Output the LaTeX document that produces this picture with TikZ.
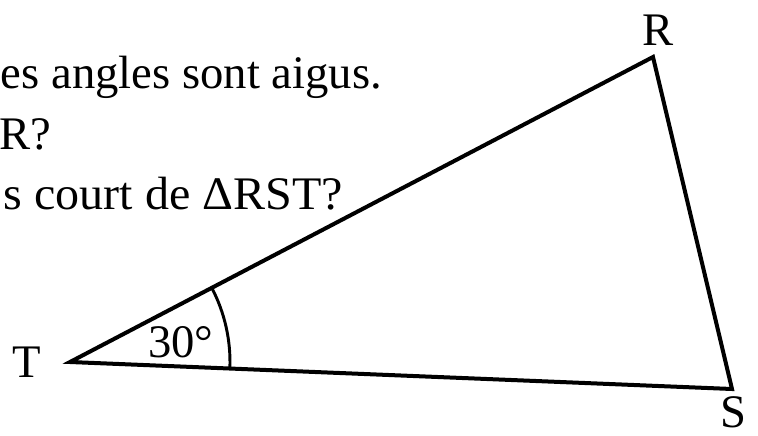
\documentclass[tikz,border=0pt]{standalone}
\usepackage{fontspec}
\setmainfont{Liberation Serif}
\begin{document}
\begin{tikzpicture}[x=0.75pt,y=-0.75pt,
  txt/.style={inner sep=0pt,outer sep=0pt,font=\fontsize{35}{38}\selectfont},
  side/.style={line width=3pt},
  anglearc/.style={line width=2.2pt}]
\useasboundingbox (0,0) rectangle (758,436);
% question lines (cut at the left edge)
\node[txt,anchor=base west] (q1) at (1,88) {es angles sont aigus.};
\node[txt,anchor=base east] (q2) at (51,149) {R?};
\node[txt,anchor=base east] (q3) at (343,209) {\addfontfeature{FakeStretch=1.03}s court de ΔRST?};
% triangle
\coordinate (T) at (70,362);
\coordinate (R) at (653,57);
\coordinate (S) at (732,389);
\draw[side] (T) -- (R) -- (S) -- cycle;
% angle mark
\draw[anglearc] ([shift={(2.34:160)}]T) arc[start angle=2.34, end angle=-27.6, radius=160];
\node[txt,anchor=base west] (a) at (148,357) {30°};
% vertex labels
\node[txt,anchor=base] (lT) at (27,377) {T};
\node[txt,anchor=base] (lR) at (658,45) {R};
\node[txt,anchor=base] (lS) at (733,427) {S};
\end{tikzpicture}
\end{document}
